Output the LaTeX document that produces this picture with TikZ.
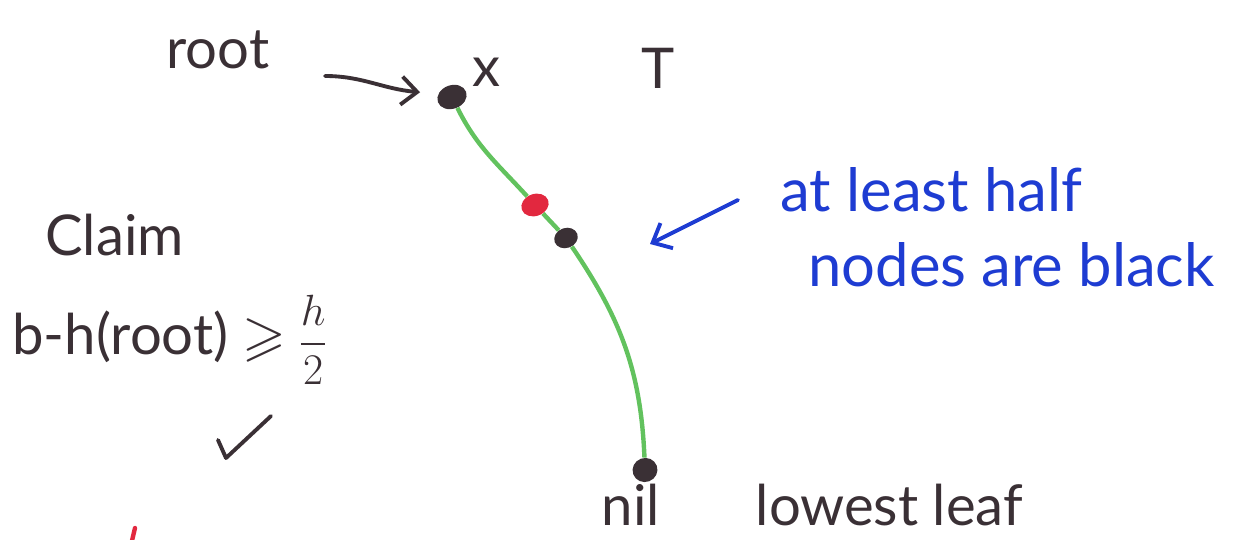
\documentclass[tikz,border=0pt]{standalone}
\usepackage{amsmath}
\usepackage{amssymb}
\usepackage{fontspec}
\setmainfont{Lato}
\usepackage{tikz}
\usetikzlibrary{positioning}
\usetikzlibrary{arrows.meta}
\usetikzlibrary{shapes.geometric}

\definecolor{marker}{HTML}{3A3035}
\definecolor{treegreen}{HTML}{62C25E}
\definecolor{penblue}{HTML}{1E3CD2}
\definecolor{penred}{HTML}{E2283F}

\tikzset{
  hand/.style={font=\fontsize{32}{36}\selectfont, text=marker, inner sep=0pt},
  bluehand/.style={hand, text=penblue, font=\fontsize{34}{38}\selectfont},
  blackdot/.style={ellipse, fill=marker, minimum width=0.6cm, minimum height=0.47cm, inner sep=0pt, rotate=20},
  reddot/.style={blackdot, fill=penred},
  treeedge/.style={treegreen, line width=2.5pt},
  pointer/.style={-{Straight Barb[length=9pt,width=16pt]}, line width=2.2pt, line cap=round}
}

\begin{document}
\begin{tikzpicture}[x=0.02cm, y=-0.02cm]
    \useasboundingbox (0,0) rectangle (1241,540);

    % Path of the tree
    \node[blackdot] (root) at (452,97) {};
    \node[reddot, minimum width=0.56cm, minimum height=0.44cm] (red) at (535,205) {};
    \node[blackdot, minimum width=0.48cm, minimum height=0.4cm] (mid) at (566,238) {};
    \node[blackdot, minimum width=0.5cm, minimum height=0.48cm] (nil) at (645,470) {};
    \draw[treeedge] (root) to[out=-68, in=128] (red);
    \draw[treeedge] (red) -- (mid);
    \draw[treeedge] (mid) to[out=-58, in=90] (nil);

    % Labels on the nodes
    \node[hand] (rootlbl) at (218,50) {root};
    \node[hand] (xlbl) at (486,72) {x};
    \node[hand] (tlbl) at (658,68) {T};
    \node[hand] (nillbl) at (631,505) {nil};
    \node[hand, right=1.9cm of nillbl.east, anchor=west] (leaflbl) {lowest leaf};

    % Arrow to the root
    \coordinate (rootarrow) at (325,76);
    \draw[pointer, marker] (rootarrow) to[out=0, in=175] ([xshift=-0.35cm, yshift=0.2cm]root.west);

    % Note on the black nodes
    \node[bluehand, anchor=west] (half) at (780,190) {at least half};
    \node[bluehand, anchor=west] (black) at (808,265) {nodes are black};
    \coordinate (notetail) at (738,200);
    \coordinate (notetip) at (650,244);
    \draw[pointer, penblue] (notetail) -- (notetip);

    % Claim
    \node[hand, anchor=west] (claim) at (45,235) {Claim};
    \node[hand, anchor=west] (bound) at (12,340) {b-h(root) $\geqslant \dfrac{h}{2}$};

    % Tick and red mark
    \draw[marker, line width=2.2pt, line cap=round, line join=round] (218,440) -- (226,458) -- (271,416);
    \draw[penred, line width=2.5pt, line cap=round] (135,528) -- (131,545);
  \end{tikzpicture}
\end{document}
